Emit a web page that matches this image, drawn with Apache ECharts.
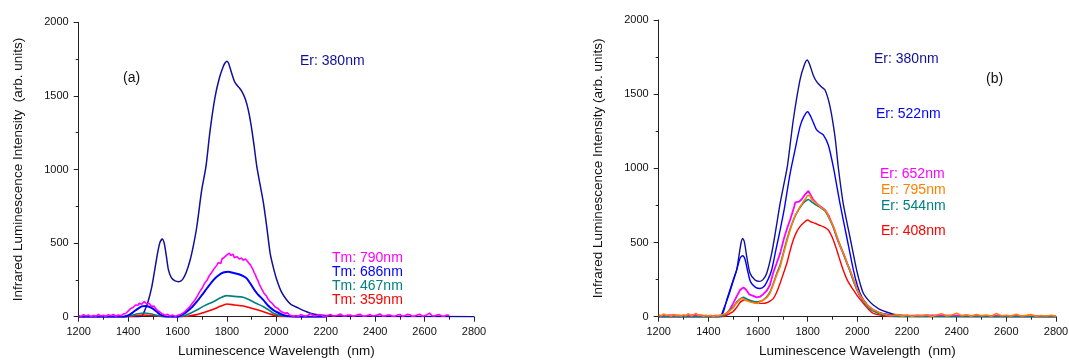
<!DOCTYPE html>
<html>
<head>
<meta charset="utf-8">
<script src="https://cdn.jsdelivr.net/npm/echarts/dist/echarts.min.js"></script>
<style>
  html, body { margin: 0; padding: 0; background: #fff; }
  #chart { width: 1069px; height: 360px; }
</style>
</head>
<body>
<div id="chart"></div>
<script>
// ---------- Axis ranges ----------
const wavelengthRange = [1200, 2800];   // nm
const intensityRange = [0, 2000];       // arb. units

// ---------- Panel (a): Er 380 nm excitation vs. Tm excitations ----------
const aEr380 = [[1200,0],[1300,0],[1400,0],[1440,0],[1455,3],[1468,45],[1482,110],[1496,204],[1508,320],[1518,420],[1528,500],[1538,528],[1546,500],[1555,410],[1563,320],[1575,265],[1590,243],[1605,238],[1620,252],[1635,300],[1651,385],[1665,490],[1678,611],[1698,861],[1715,1019],[1732,1268],[1752,1494],[1770,1625],[1785,1700],[1793,1725],[1800,1735],[1807,1720],[1818,1660],[1830,1600],[1840,1574],[1850,1555],[1862,1525],[1875,1475],[1887,1400],[1898,1300],[1910,1160],[1921,1019],[1935,890],[1948,770],[1962,600],[1975,431],[1990,320],[2002,249],[2020,170],[2042,113],[2060,82],[2090,58],[2120,35],[2150,18],[2200,8],[2300,3],[2500,2],[2800,0]];

const aTm790Low = [[1200,8],[1210,2],[1220,14],[1230,4],[1240,11],[1250,0],[1260,9],[1270,3],[1280,16],[1290,5],[1300,10],[1310,2],[1320,13],[1330,6],[1340,15],[1350,3],[1360,12],[1370,6],[1380,18],[1390,22]];
const aTm790Band = [[1400,38],[1405,30],[1410,55],[1415,48],[1420,62],[1425,74],[1430,80],[1435,70],[1440,78],[1445,92],[1450,98],[1455,84],[1460,88],[1465,104],[1470,100],[1475,86],[1480,82],[1485,92],[1490,85],[1495,70],[1500,66],[1505,72],[1510,58],[1515,48],[1520,40],[1525,42],[1530,30],[1535,22],[1540,18],[1550,10],[1560,16],[1570,4],[1580,12],[1590,2],[1600,9],[1610,14],
  [1620,22],[1625,14],[1630,35],[1635,30],[1640,52],[1645,44],[1650,68],[1655,60],[1660,92],[1665,84],[1670,112],[1675,118],[1680,140],[1685,132],[1690,170],[1695,166],[1700,195],[1705,205],[1710,228],[1715,222],[1720,250],[1725,262],[1730,282],[1735,276],[1740,305],[1745,318],[1750,330],[1755,340],[1760,352],[1765,368],[1770,375],[1775,362],[1780,392],[1785,384],[1790,405],[1795,418],[1800,420],[1805,408],[1810,432],[1815,416],[1820,412],[1825,425],[1830,400],[1835,412],[1840,408],[1845,396],[1850,392],[1855,404],[1860,398],[1865,384],[1870,380],[1875,392],[1880,386],[1885,372],[1890,362],[1895,352],[1900,340],[1905,322],[1910,300],[1915,286],[1920,262],[1925,248],[1930,225],[1935,212],[1940,190],[1945,178],[1950,160],[1955,150],[1960,140],[1965,124],[1970,118],[1975,102],[1980,95],[1985,88],[1990,78],[1995,66],[2000,62],[2005,58],[2010,52],[2015,40],[2020,40],[2025,30],[2030,35],[2035,24],[2040,22],[2045,26],[2050,18],[2055,10],[2060,12]];
const aTm790High = [[2070,4],[2080,8],[2090,3],[2100,16],[2110,6],[2120,4],[2130,12],[2140,20],[2150,5],[2160,6],[2170,14],[2180,13],[2190,3],[2200,2],[2210,10],[2220,15],[2230,4],[2240,7],[2250,12],[2260,18],[2270,5],[2280,4],[2290,11],[2300,12],[2310,3],[2320,6],[2330,14],[2340,16],[2350,4],[2360,3],[2370,10],[2380,14],[2390,5],[2400,8],[2410,13],[2420,19],[2430,4],[2440,5],[2450,11],[2460,12],[2470,3],[2480,2],[2490,12],[2500,15],[2510,4],[2520,7],[2530,16],[2540,13],[2550,3],[2560,4],[2570,12],[2580,17],[2590,4],[2600,6],[2610,14],[2620,24],[2630,6],[2640,5],[2650,12],[2660,14],[2670,4],[2680,3],[2690,11],[2700,10]];

const aTm686 = [[1200,0],[1380,0],[1400,8],[1420,30],[1440,55],[1455,70],[1470,73],[1485,68],[1500,55],[1515,35],[1530,15],[1545,4],[1560,0],[1600,0],[1620,15],[1640,38],[1660,68],[1678,102],[1700,150],[1720,195],[1745,249],[1765,280],[1785,300],[1806,306],[1825,298],[1845,290],[1866,276],[1880,260],[1894,227],[1910,185],[1925,152],[1948,113],[1965,78],[1988,45],[2010,25],[2028,12],[2050,4],[2080,0],[2200,0]];
const aTm467 = [[1200,0],[1380,0],[1410,8],[1440,20],[1465,25],[1490,20],[1520,8],[1550,0],[1610,0],[1640,15],[1678,45],[1710,75],[1745,102],[1770,125],[1799,143],[1830,138],[1866,132],[1890,115],[1920,90],[1948,68],[1970,45],[1990,22],[2020,8],[2060,0],[2200,0]];
const aTm359 = [[1200,0],[1380,0],[1420,5],[1460,12],[1500,8],[1540,0],[1620,0],[1650,6],[1678,14],[1710,30],[1745,50],[1775,72],[1800,86],[1830,80],[1866,73],[1900,58],[1948,34],[1975,18],[1995,8],[2030,0],[2200,0]];

// ---------- Panel (b): Er emission for several excitation wavelengths ----------
const bEr380 = [[1200,0],[1440,0],[1452,10],[1460,45],[1475,110],[1487,170],[1500,240],[1514,315],[1525,430],[1532,500],[1538,528],[1545,505],[1555,400],[1568,293],[1588,247],[1605,238],[1620,250],[1635,293],[1655,427],[1672,590],[1689,764],[1705,900],[1718,1011],[1742,1326],[1769,1596],[1785,1690],[1798,1730],[1808,1700],[1822,1630],[1836,1584],[1855,1550],[1870,1528],[1890,1416],[1910,1213],[1923,1011],[1943,764],[1970,539],[1997,315],[2010,230],[2024,158],[2045,110],[2064,79],[2090,50],[2120,30],[2150,15],[2200,6],[2300,2],[2800,0]];
const bEr522 = [[1200,0],[1445,0],[1452,5],[1462,40],[1474,113],[1487,180],[1500,247],[1515,320],[1528,395],[1538,411],[1547,390],[1558,310],[1570,235],[1590,198],[1608,190],[1625,205],[1640,250],[1655,315],[1672,450],[1689,584],[1705,720],[1718,854],[1732,989],[1749,1124],[1769,1281],[1785,1350],[1800,1382],[1812,1350],[1825,1300],[1836,1259],[1850,1240],[1863,1225],[1883,1157],[1903,1011],[1930,764],[1957,539],[1984,315],[2000,210],[2017,135],[2040,80],[2064,45],[2100,22],[2150,8],[2200,3],[2800,0]];
const bEr652 = [[1200,5],[1260,10],[1300,6],[1350,12],[1400,4],[1450,8],[1460,10],[1474,20],[1487,50],[1500,90],[1515,140],[1528,180],[1535,192],[1541,198],[1546,188],[1552,182],[1565,150],[1580,140],[1595,130],[1608,135],[1620,150],[1635,175],[1648,214],[1660,290],[1675,360],[1689,427],[1705,530],[1718,600],[1729,652],[1742,720],[1750,770],[1756,782],[1765,775],[1775,790],[1790,825],[1797,838],[1803,848],[1810,835],[1820,795],[1836,764],[1850,745],[1870,720],[1885,680],[1903,607],[1920,520],[1943,427],[1957,365],[1970,315],[1984,250],[1997,190],[2010,140],[2024,110],[2040,75],[2064,45],[2090,25],[2110,12],[2140,6],[2300,8],[2500,6],[2800,4]];
const bEr544 = [[1200,0],[1450,0],[1462,10],[1474,25],[1487,45],[1500,65],[1515,100],[1528,120],[1541,130],[1552,122],[1565,112],[1580,104],[1595,100],[1608,104],[1620,112],[1635,135],[1648,165],[1662,225],[1675,290],[1689,350],[1705,450],[1718,530],[1729,590],[1750,680],[1769,735],[1785,770],[1803,790],[1815,775],[1836,750],[1850,738],[1870,712],[1885,668],[1903,605],[1920,525],[1950,400],[1970,310],[1984,240],[2000,175],[2024,105],[2045,62],[2064,38],[2100,15],[2150,4],[2200,0],[2800,0]];
const bEr795Low = [[1200,14],[1210,5],[1220,18],[1230,8],[1240,12],[1250,3],[1260,15],[1270,6],[1280,10],[1290,4],[1300,13],[1310,7],[1320,20],[1330,5],[1340,12],[1350,22],[1360,8],[1370,11],[1380,3],[1390,9],[1400,5],[1410,10],[1420,2],[1430,8],[1440,5],[1450,12]];
const bEr795Band = [[1460,15],[1474,25],[1487,40],[1500,60],[1508,82],[1515,95],[1522,108],[1528,112],[1535,125],[1541,124],[1547,112],[1552,120],[1558,106],[1565,112],[1572,98],[1580,104],[1588,92],[1595,100],[1602,90],[1608,104],[1614,96],[1620,110],[1635,128],[1648,158],[1662,220],[1675,280],[1689,337],[1705,440],[1718,520],[1729,584],[1740,640],[1750,685],[1760,712],[1769,742],[1777,760],[1785,782],[1792,796],[1798,815],[1803,808],[1809,818],[1815,792],[1822,785],[1830,770],[1836,764],[1843,752],[1850,748],[1858,730],[1870,718],[1878,700],[1885,672],[1893,645],[1903,610],[1912,570],[1920,530],[1932,470],[1940,440],[1950,404],[1960,355],[1970,315],[1977,285],[1984,250],[1992,215],[2000,180],[2012,140],[2024,113],[2035,88],[2045,70],[2055,58],[2064,45],[2078,38],[2090,25],[2105,18],[2120,12]];
const bEr795High = [[2140,8],[2160,14],[2180,4],[2200,12],[2220,3],[2240,10],[2260,6],[2280,13],[2300,2],[2320,11],[2340,20],[2360,5],[2380,12],[2400,24],[2420,6],[2440,13],[2460,4],[2480,15],[2500,7],[2520,11],[2540,3],[2560,22],[2580,6],[2600,10],[2620,4],[2640,16],[2660,5],[2680,9],[2700,14],[2720,3],[2740,8],[2760,5],[2780,10],[2800,4]];
const bEr408 = [[1200,0],[1460,0],[1475,10],[1487,22],[1500,35],[1515,65],[1530,100],[1547,113],[1560,108],[1575,100],[1590,92],[1608,90],[1620,90],[1635,94],[1648,105],[1662,124],[1675,165],[1689,225],[1702,290],[1716,360],[1730,450],[1742,517],[1755,570],[1769,607],[1785,635],[1800,652],[1812,640],[1829,630],[1845,618],[1863,607],[1883,584],[1900,530],[1917,450],[1930,380],[1943,315],[1960,245],[1984,180],[2000,140],[2024,90],[2045,50],[2064,22],[2100,8],[2150,0],[2800,0]];

// ---------- Colours ----------
const NAVY = '#10109a', BLUE = '#0000ff', MAGENTA = '#ff00ff', TEAL = '#008080', RED = '#ff0000', ORANGE = '#ff8000';
const FONT = '"Liberation Sans", Arial, sans-serif';

// ---------- Annotation text ----------
const panelALabels = [
  { text: 'Tm: 790nm', color: MAGENTA, x: 332, y: 259 },
  { text: 'Tm: 686nm', color: BLUE,    x: 332, y: 273 },
  { text: 'Tm: 467nm', color: TEAL,    x: 332, y: 287 },
  { text: 'Tm: 359nm', color: RED,     x: 332, y: 301 },
  { text: 'Er: 380nm', color: NAVY,    x: 300, y: 62 },
  { text: '(a)',       color: '#111',  x: 123, y: 79 }
];
const panelBLabels = [
  { text: 'Er: 380nm', color: NAVY,    x: 874, y: 60 },
  { text: 'Er: 522nm', color: BLUE,    x: 876, y: 115 },
  { text: '(b)',       color: '#111',  x: 986, y: 80 },
  { text: 'Er: 652nm', color: MAGENTA, x: 880, y: 175 },
  { text: 'Er: 795nm', color: ORANGE,  x: 881, y: 191 },
  { text: 'Er: 544nm', color: TEAL,    x: 881, y: 207 },
  { text: 'Er: 408nm', color: RED,     x: 881, y: 232 }
];

// ---------- Option builders ----------
const plainNumber = v => String(v);

function xAxisFor(gridIndex) {
  return {
    type: 'value', gridIndex,
    min: wavelengthRange[0], max: wavelengthRange[1], interval: 200,
    name: 'Luminescence Wavelength  (nm)', nameLocation: 'middle', nameGap: 28,
    nameTextStyle: { fontFamily: FONT, fontSize: 13.5, color: '#111' },
    axisLine: { show: true, onZero: false, lineStyle: { color: '#222', width: 1 } },
    axisTick: { show: true, inside: false, length: 5, lineStyle: { color: '#222' } },
    minorTick: { show: true, splitNumber: 2, length: 3, lineStyle: { color: '#222' } },
    axisLabel: { fontFamily: FONT, fontSize: 11, color: '#111', margin: 10, formatter: plainNumber },
    splitLine: { show: false }
  };
}
function yAxisFor(gridIndex, name) {
  return {
    type: 'value', gridIndex,
    min: intensityRange[0], max: intensityRange[1], interval: 500,
    name, nameLocation: 'middle', nameGap: 53,
    nameTextStyle: { fontFamily: FONT, fontSize: 13.5, color: '#111' },
    axisLine: { show: true, lineStyle: { color: '#222', width: 1 } },
    axisTick: { show: true, inside: false, length: 5, lineStyle: { color: '#222' } },
    minorTick: { show: true, splitNumber: 2, length: 3, lineStyle: { color: '#222' } },
    axisLabel: { fontFamily: FONT, fontSize: 11, color: '#111', margin: 10, formatter: plainNumber },
    splitLine: { show: false }
  };
}
function curve(name, data, color, idx, opts) {
  opts = opts || {};
  return {
    name, type: 'line', data,
    xAxisIndex: idx, yAxisIndex: idx,
    showSymbol: false, symbol: 'none',
    smooth: opts.smooth === undefined ? 0.25 : opts.smooth,
    lineStyle: { color, width: opts.width || 1.4 },
    z: opts.z || 2,
    animation: false, silent: true
  };
}
function textEl(l) {
  return {
    type: 'text', left: l.x, top: l.y - 8,
    style: { text: l.text, fill: l.color, font: '14px ' + FONT }
  };
}

const option = {
  animation: false,
  backgroundColor: '#fff',
  grid: [
    { left: 78.7, right: 1069 - 474, top: 22.3, bottom: 360 - 316.7, containLabel: false, outerBoundsMode: 'none' },
    { left: 658.7, right: 1069 - 1056, top: 20, bottom: 360 - 316.7, containLabel: false, outerBoundsMode: 'none' }
  ],
  xAxis: [xAxisFor(0), xAxisFor(1)],
  yAxis: [
    yAxisFor(0, 'Infrared Luminescence Intensity  (arb. units)'),
    yAxisFor(1, 'Infrared Luminescence Intensity (arb. units)')
  ],
  series: [
    curve('Er: 380nm', aEr380, NAVY, 0, { width: 1.5 }),
    curve('Tm: 359nm', aTm359, RED, 0, { width: 1.6, z: 3 }),
    curve('Tm: 467nm', aTm467, TEAL, 0, { width: 1.6, z: 3 }),
    curve('Tm: 686nm', aTm686, BLUE, 0, { width: 2, z: 4 }),
    curve('Tm: 790nm', aTm790Low.concat(aTm790Band, aTm790High), MAGENTA, 0, { smooth: false, width: 1.6, z: 5 }),

    curve('Er: 380nm', bEr380, NAVY, 1, { width: 1.4 }),
    curve('Er: 522nm', bEr522, BLUE, 1, { width: 1.4 }),
    curve('Er: 408nm', bEr408, RED, 1, { width: 1.4, z: 3 }),
    curve('Er: 652nm', bEr652, MAGENTA, 1, { smooth: false, width: 1.8, z: 4 }),
    curve('Er: 544nm', bEr544, TEAL, 1, { width: 1.6, z: 5 }),
    curve('Er: 795nm', bEr795Low.concat(bEr795Band, bEr795High), ORANGE, 1, { smooth: false, width: 1.6, z: 6 })
  ],
  graphic: panelALabels.concat(panelBLabels).map(textEl)
};

const chart = echarts.init(document.getElementById('chart'), null, { renderer: 'canvas' });
chart.setOption(option);
</script>
</body>
</html>
